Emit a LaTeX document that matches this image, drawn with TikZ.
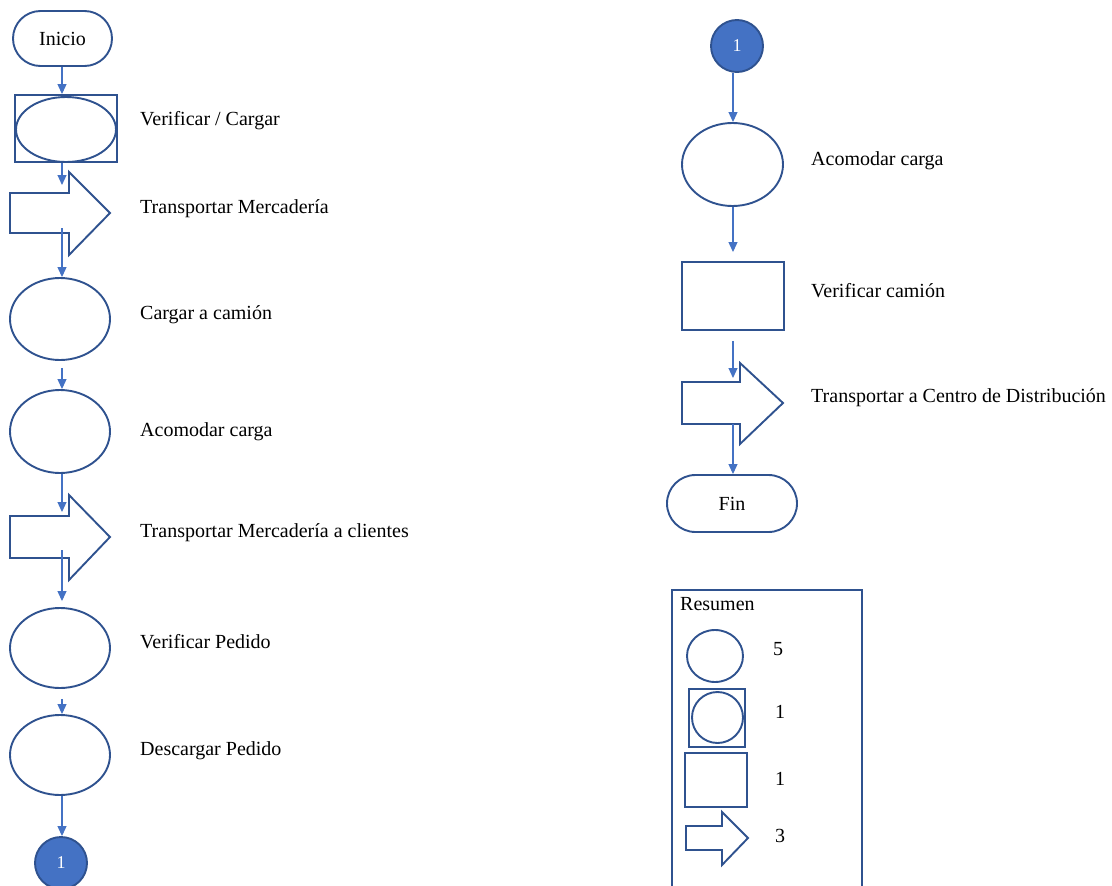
\documentclass[tikz,border=0pt]{standalone}
\usepackage{fontspec}
\setmainfont{Liberation Serif}
\usetikzlibrary{arrows.meta,shapes.geometric,calc}
\definecolor{outl}{HTML}{2F528F}
\definecolor{connc}{HTML}{4472C4}
\begin{document}
\begin{tikzpicture}[x=1pt,y=-1pt,
  every node/.style={font=\fontsize{20}{24}\selectfont},
  shp/.style={draw=outl, line width=1.9pt, fill=white},
  ell/.style={shp, ellipse, inner sep=0pt},
  boxshape/.style={shp, rectangle, inner sep=0pt},
  termshape/.style={shp, rectangle, inner sep=0pt},
  conn/.style={draw=connc, line width=1.1pt, -{Triangle[length=10pt,width=9pt]}},
  lbl/.style={anchor=base west, inner sep=0pt},
  onpage/.style={shp, circle, fill=connc, text=white, inner sep=0pt, minimum size=52pt, font=\fontsize{18}{20}\selectfont},
]
\useasboundingbox (0,0) rectangle (1112,886);

% column guides
\coordinate (lx) at (62,0);
\coordinate (rx) at (733,0);

% ---------- left column ----------
\node[termshape, rounded corners=27.5pt, minimum width=99pt, minimum height=55pt] (ini) at (62.5,38.5) {Inicio};

\node[boxshape, minimum width=102pt, minimum height=67pt] (vc) at (66,128.5) {};
\node[ell, minimum width=100pt, minimum height=65pt] (vce) at (66,129.5) {};

\draw[shp] (10,193) -- (69,193) -- (69,172) -- (110,213) -- (69,255) -- (69,233) -- (10,233) -- cycle;
\coordinate (ba1a) at (62,185);
\coordinate (ba1b) at (62,228);

\node[ell, minimum width=100pt, minimum height=82pt] (e1) at (60,319) {};
\node[ell, minimum width=100pt, minimum height=83pt] (e2) at (60,431.5) {};

\draw[shp] (10,516) -- (69,516) -- (69,495) -- (110,537) -- (69,580) -- (69,558) -- (10,558) -- cycle;
\coordinate (ba2a) at (62,512);
\coordinate (ba2b) at (62,550);

\node[ell, minimum width=100pt, minimum height=80pt] (e3) at (60,648) {};
\node[ell, minimum width=100pt, minimum height=80pt] (e4) at (60,755) {};

\node[onpage] (c1) at (61,863) {1};

% labels left
\node[lbl] (t1) at (140,125) {Verificar / Cargar};
\node[lbl] (t2) at (140,213) {Transportar Mercadería};
\node[lbl] (t3) at (140,319) {Cargar a camión};
\node[lbl] (t4) at (140,436) {Acomodar carga};
\node[lbl] (t5) at (140,537) {Transportar Mercadería a clientes};
\node[lbl] (t6) at (140,648) {Verificar Pedido};
\node[lbl] (t7) at (140,755) {Descargar Pedido};

% ---------- right column ----------
\node[onpage] (c2) at (737,46) {1};
\node[ell, minimum width=101pt, minimum height=83pt] (e5) at (732.5,164.5) {};
\node[boxshape, minimum width=102pt, minimum height=68pt] (r1) at (733,296) {};
\draw[shp] (682,382) -- (740,382) -- (740,363) -- (783,403) -- (740,444) -- (740,424) -- (682,424) -- cycle;
\coordinate (ba3a) at (733,378);
\coordinate (ba3b) at (733,424);
\node[termshape, rounded corners=28.5pt, minimum width=130pt, minimum height=57pt] (fin) at (732,503.5) {Fin};

\node[lbl] (t8) at (811,165) {Acomodar carga};
\node[lbl] (t9) at (811,297) {Verificar camión};
\node[lbl] (t10) at (811,402) {Transportar a Centro de Distribución};

% ---------- summary ----------
\node[boxshape, minimum width=190pt, minimum height=310pt] (sum) at (767,745) {};
\node[lbl] (sumt) at (680,610) {Resumen};
\node[ell, minimum width=56pt, minimum height=52pt] (le) at (715,656) {};
\node[boxshape, minimum width=56pt, minimum height=58pt] (lq) at (717,718) {};
\node[ell, minimum width=51pt, minimum height=51pt] (lqc) at (717.5,717.5) {};
\node[boxshape, minimum width=62pt, minimum height=54pt] (lr) at (716,780) {};
\draw[shp] (686,826) -- (722,826) -- (722,812) -- (748,838) -- (722,865) -- (722,850) -- (686,850) -- cycle;
\node[lbl] (n1) at (773,655) {5};
\node[lbl] (n2) at (775,718) {1};
\node[lbl] (n3) at (775,785) {1};
\node[lbl] (n4) at (775,842) {3};

% ---------- connectors ----------
\draw[conn] (ini.south -| lx) -- (vc.north -| lx);
\draw[conn] (vc.south -| lx) -- (ba1a);
\draw[conn] (ba1b) -- (e1.north -| lx);
\draw[conn, shorten <=7pt] (e1.south -| lx) -- (e2.north -| lx);
\draw[conn] (e2.south -| lx) -- (ba2a);
\draw[conn, shorten >=6pt] (ba2b) -- (e3.north -| lx);
\draw[conn, shorten <=10pt] (e3.south -| lx) -- (e4.north -| lx);
\draw[conn] (e4.south -| lx) -- (c1.north -| lx);

\draw[conn] (c2.south -| rx) -- (e5.north -| rx);
\draw[conn, shorten >=9pt] (e5.south -| rx) -- (r1.north -| rx);
\draw[conn, shorten <=10pt] (r1.south -| rx) -- (ba3a);
\draw[conn] (ba3b) -- (fin.north -| rx);
\end{tikzpicture}
\end{document}
